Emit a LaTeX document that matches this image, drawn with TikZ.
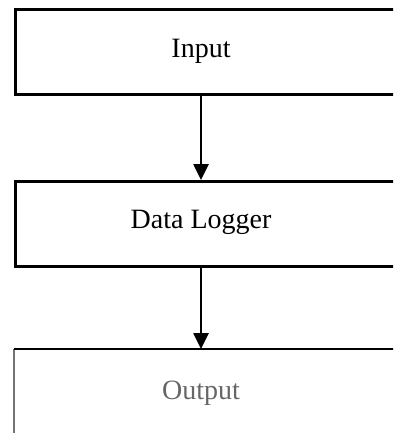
\documentclass[tikz,border=0pt]{standalone}
\usepackage{fontspec}
\setmainfont{Liberation Serif}
\usetikzlibrary{arrows.meta}
\begin{document}
\begin{tikzpicture}[x=1pt,y=-1pt,
  box/.style={draw=black, line width=2.6pt, rectangle, inner sep=0pt, anchor=north west},
  lbl/.style={font=\fontsize{28}{30}\selectfont, inner sep=0pt},
  arr/.style={line width=2.6pt, -{Triangle[length=16pt,width=15pt]}}]
\useasboundingbox (0,0) rectangle (393,433);
\clip (0,0) rectangle (393,433);
\node[box, minimum width=400pt, minimum height=85pt] (in) at (14,8) {};
\node[box, minimum width=400pt, minimum height=85pt] (dl) at (14,180) {};
\node[box, draw=none, minimum width=400pt, minimum height=100pt] (out) at (14,349) {};
\draw[line width=2.6pt, black!55] (out.south west) -- (out.north west);
\draw[line width=2.6pt, black] (out.north west) -- (out.north east);
\node[lbl] (intext) at (201,51) {Input};
\node[lbl] (dltext) at (201,222) {Data Logger};
\node[lbl, text=black!60] (outtext) at (201,393) {Output};
\draw[arr] (intext |- in.south) -- (intext |- dl.north);
\draw[arr] (dltext |- dl.south) -- (dltext |- out.north);
\end{tikzpicture}
\end{document}
